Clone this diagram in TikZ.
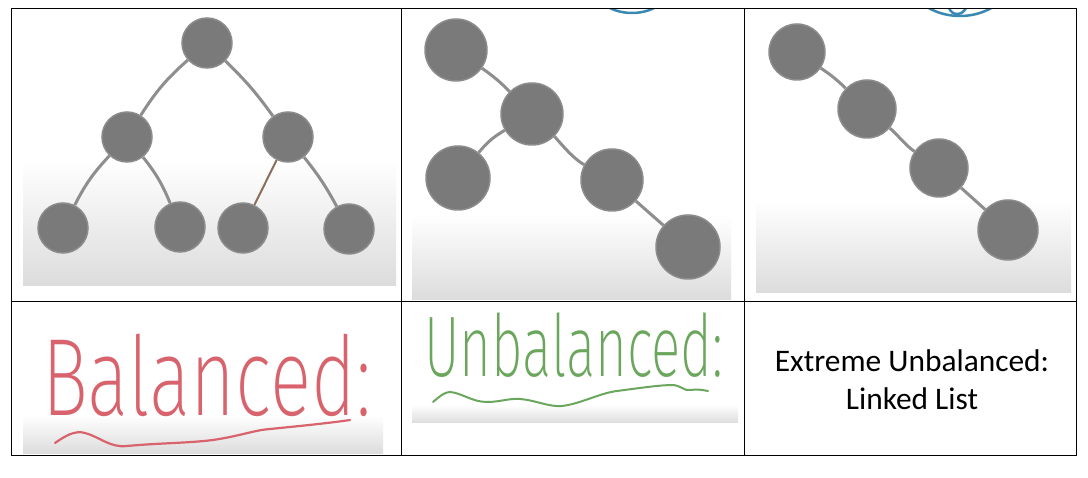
\documentclass[tikz,border=0pt]{standalone}
\usepackage{fontspec}
\newfontfamily\calib{Carlito}
\newfontfamily\hand{Fira Sans ExtraLight}
\begin{document}
\begin{tikzpicture}[x=1pt,y=-1pt,
  ball/.style={circle,fill=ballgray,draw=ballrim,line width=1.5pt,inner sep=0pt,minimum size=#1},
  ball/.default=50pt,
  edge/.style={draw=edgegray,line width=3pt},
  grid/.style={draw=black,line width=1pt},
  fade/.style={top color=white,bottom color=fadegray},
  blueline/.style={draw=bluearc,line width=2.5pt}]
\definecolor{ballgray}{HTML}{7A7A7A}
\definecolor{ballrim}{HTML}{8C8C8C}
\definecolor{edgegray}{HTML}{8E8E8E}
\definecolor{fadegray}{HTML}{DCDCDC}
\definecolor{bluearc}{HTML}{3A88B0}
\definecolor{redink}{HTML}{D9636C}
\definecolor{greenink}{HTML}{6AA65C}
\definecolor{brownedge}{HTML}{8A6E5E}
\useasboundingbox (0,0) rectangle (1088,478);
\fill[white] (0,0) rectangle (1088,478);

% image backgrounds
\fill[fade] (23,160) rectangle (396,286);
\fill[fade] (412,215) rectangle (731,300);
\fill[fade] (756,200) rectangle (1071,293);
\fill[fade] (23,415) rectangle (383,454);
\fill[fade] (412,405) rectangle (738,423);

% blue arcs at top
\begin{scope}
\clip (402,8.5) rectangle (1076,60);
\draw[blueline] (632,-20) ellipse (42pt and 33pt);
\draw[blueline] (960,-40) ellipse (61pt and 56pt);
\draw[blueline] (949,8) .. controls (952,16) and (962,16) .. (966,8);
\end{scope}

% balanced tree
\node[ball] (b1) at (207,43) {};
\node[ball] (b2) at (127,137) {};
\node[ball] (b3) at (288,137) {};
\node[ball] (b4) at (63,228) {};
\node[ball] (b5) at (180,227) {};
\node[ball] (b6) at (243,228) {};
\node[ball] (b7) at (349,229) {};
\draw[edge] (b1) to[bend right=8] (b2);
\draw[edge] (b1) to[bend left=5] (b3);
\draw[edge] (b2) to[bend right=8] (b4);
\draw[edge] (b2) to[bend left=8] (b5);
\draw[edge,draw=brownedge,line width=2pt] (b3) -- (b6);
\draw[edge] (b3) to[bend left=5] (b7);

% unbalanced tree
\node[ball=62pt] (u1) at (456,50) {};
\node[ball=62pt] (u2) at (532,114) {};
\node[ball=64pt] (u3) at (458,178) {};
\node[ball=62pt] (u4) at (612,180) {};
\node[ball=64pt] (u5) at (688,247) {};
\draw[edge] (u1) to[bend left=5] (u2);
\draw[edge] (u2) to[bend right=10] (u3);
\draw[edge] (u2) .. controls (558,140) and (572,158) .. (u4);
\draw[edge] (u4) -- (u5);

% linked list
\node[ball=56pt] (l1) at (797,52) {};
\node[ball=58pt] (l2) at (867,109) {};
\node[ball=58pt] (l3) at (939,168) {};
\node[ball=60pt] (l4) at (1008,230) {};
\draw[edge] (l1) to[bend left=5] (l2);
\draw[edge] (l2) .. controls (898,135) and (905,145) .. (l3);
\draw[edge] (l3) -- (l4);

% handwriting labels
\node[text=redink,inner sep=0pt,anchor=south west] (bal) at (42,417)
  {\scalebox{0.70}[1]{\hand\fontsize{110}{110}\selectfont Balanced:}};
\draw[redink,line width=2.2pt,line cap=round] (55,443) .. controls (65,436) and (75,430) .. (85,433)
  .. controls (100,437) and (110,448) .. (127,446)
  .. controls (160,443) and (190,443) .. (213,440)
  .. controls (240,436) and (255,430) .. (270,429)
  .. controls (300,426) and (330,423) .. (350,420);
\node[text=greenink,inner sep=0pt,anchor=south west] (unbal) at (424,378)
  {\scalebox{0.635}[1]{\hand\fontsize{86}{86}\selectfont Unbalanced:}};
\draw[greenink,line width=2pt,line cap=round] (433,402) .. controls (440,396) and (445,392) .. (450,392)
  .. controls (462,393) and (472,402) .. (487,402)
  .. controls (500,402) and (510,398) .. (520,399)
  .. controls (535,400) and (548,407) .. (562,406)
  .. controls (580,404) and (600,393) .. (617,391)
  .. controls (640,388) and (660,385) .. (673,385)
  .. controls (682,386) and (684,391) .. (690,390)
  .. controls (697,389) and (703,390) .. (708,391);

% linked list label
\node[align=center,font=\calib\fontsize{31.4}{38}\selectfont] (ext) at (912,380)
  {Extreme Unbalanced:\\Linked List};

% table grid
\coordinate (tl) at (11.5,8.5);
\coordinate (br) at (1076.5,455.5);
\draw[grid] (tl) rectangle (br);
\draw[grid] (401.5,8.5) -- (401.5,455.5);
\draw[grid] (744.5,8.5) -- (744.5,455.5);
\draw[grid] (11.5,301.5) -- (1076.5,301.5);
\end{tikzpicture}
\end{document}
